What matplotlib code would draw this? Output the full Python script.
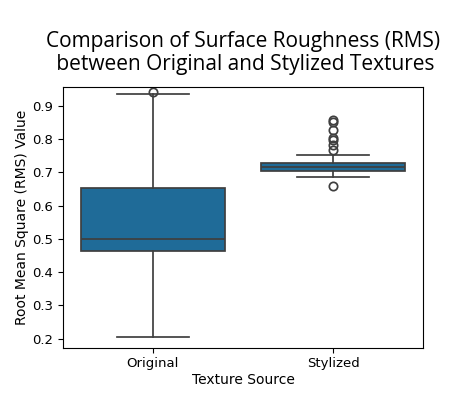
import matplotlib
matplotlib.use('Agg')
import matplotlib.pyplot as plt

# Box statistics
categories = ['Original', 'Stylized']
q1 = [0.464, 0.705]
medians = [0.500, 0.716]
q3 = [0.653, 0.728]
whisker_low = [0.206, 0.686]
whisker_high = [0.936, 0.753]
outliers = [
    [0.942],
    [0.659, 0.766, 0.781, 0.796, 0.803, 0.826, 0.851, 0.858],
]

box_color = '#1f6b98'
line_color = '#3f3f3f'

stats = []
for i, name in enumerate(categories):
    stats.append({
        'label': name,
        'q1': q1[i], 'med': medians[i], 'q3': q3[i],
        'whislo': whisker_low[i], 'whishi': whisker_high[i],
        'fliers': outliers[i],
    })

fig, ax = plt.subplots(figsize=(4.65, 3.95), dpi=100)
ax.bxp(stats, positions=range(len(categories)), widths=0.8, capwidths=0.4,
       patch_artist=True, showfliers=True,
       boxprops=dict(facecolor=box_color, edgecolor=line_color, linewidth=1.25),
       medianprops=dict(color=line_color, linewidth=1.25),
       whiskerprops=dict(color=line_color, linewidth=1.25),
       capprops=dict(color=line_color, linewidth=1.25),
       flierprops=dict(marker='o', markerfacecolor='none',
                       markeredgecolor=line_color, markersize=6,
                       markeredgewidth=1.25))

ax.set_xlim(-0.5, 1.5)
ax.set_ylim(0.173, 0.957)
ax.set_xlabel('Texture Source', fontsize=10, labelpad=2)
ax.set_ylabel('Root Mean Square (RMS) Value', fontsize=10, labelpad=2)
ax.tick_params(labelsize=9.5)
ax.set_title('Comparison of Surface Roughness (RMS)\n between Original and Stylized Textures',
             fontsize=15, family='Open Sans', pad=12, linespacing=1.15)

fig.subplots_adjust(left=0.135, right=0.91, top=0.78, bottom=0.12)
plt.savefig('out.png', dpi=100)
